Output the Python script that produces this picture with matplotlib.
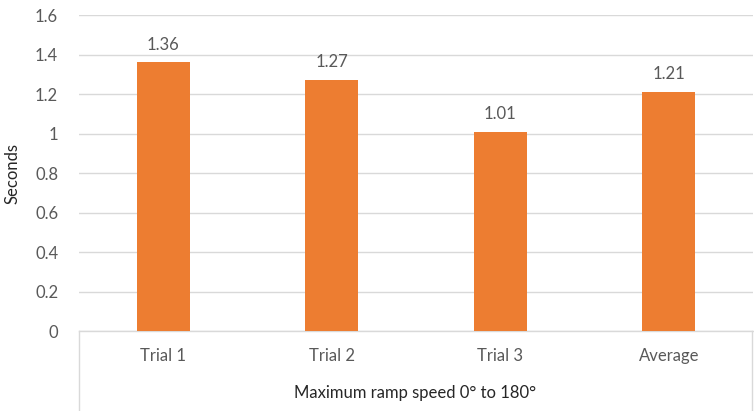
import matplotlib
matplotlib.use("Agg")
import matplotlib.pyplot as plt

categories = ["Trial 1", "Trial 2", "Trial 3", "Average"]
seconds = [1.36, 1.27, 1.01, 1.21]
labels = ["1.36", "1.27", "1.01", "1.21"]

plt.rcParams['font.family'] = ['Lato', 'DejaVu Sans']
text_col = '#595959'
grid_col = '#D9D9D9'

fig = plt.figure(figsize=(7.54, 4.11), dpi=100)
W, H = 754, 411
ax = fig.add_axes([79 / W, (H - 331) / H, (753 - 79) / W, (331 - 15) / H])

x = range(len(categories))
bars = ax.bar(x, seconds, width=0.315, color='#ED7D31', zorder=3)
for b, lab in zip(bars, labels):
    ax.annotate(lab, (b.get_x() + b.get_width() / 2, b.get_height()),
                xytext=(0, 7), textcoords='offset points',
                ha='center', va='bottom', fontsize=12, color=text_col)

ax.set_xlim(-0.5, 3.5)
ax.set_ylim(0, 1.6)
ax.set_yticks([0, 0.2, 0.4, 0.6, 0.8, 1.0, 1.2, 1.4, 1.6])
ax.set_yticklabels(['0', '0.2', '0.4', '0.6', '0.8', '1', '1.2', '1.4', '1.6'])
ax.set_xticks(list(x))
ax.set_xticklabels(categories)
ax.tick_params(axis='both', length=0, labelsize=12, colors=text_col)
ax.tick_params(axis='y', pad=15)
ax.tick_params(axis='x', pad=12)
ax.yaxis.grid(True, color=grid_col, linewidth=1, zorder=0)

for s in ['top', 'right', 'left']:
    ax.spines[s].set_visible(False)
ax.spines['bottom'].set_color(grid_col)
ax.spines['bottom'].set_linewidth(1)

# group separators below the axis
for xe in [79, 752]:
    fig.add_artist(plt.Line2D([xe / W, xe / W], [0, (H - 331) / H],
                              color=grid_col, linewidth=1))

fig.text(13 / W, (H - 173) / H, 'Seconds', rotation=90,
         ha='center', va='center', fontsize=12, color='#262626')
fig.text((79 + 752) / 2 / W, (H - 393) / H, 'Maximum ramp speed 0° to 180°',
         ha='center', va='center', fontsize=12, color='#262626')

fig.savefig('out.png', dpi=100)
